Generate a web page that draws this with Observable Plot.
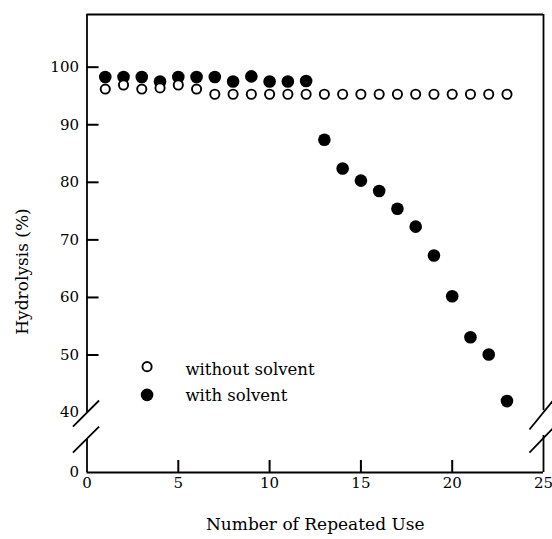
<!DOCTYPE html>
<html><head><meta charset="utf-8">
<script src="https://cdn.jsdelivr.net/npm/d3@7"></script>
<script src="https://cdn.jsdelivr.net/npm/@observablehq/plot@0.6"></script>
<style>body{margin:0;background:#fff}</style>
</head><body><div id="chart"></div>
<script>
// ---- data ----
const repeatedUse = [1,2,3,4,5,6,7,8,9,10,11,12,13,14,15,16,17,18,19,20,21,22,23];
const withoutSolvent = [96.2,96.9,96.2,96.4,96.9,96.2,95.3,95.3,95.3,95.3,95.3,95.3,95.3,95.3,95.3,95.3,95.3,95.3,95.3,95.3,95.3,95.3,95.3];
const withSolvent = [98.3,98.3,98.3,97.5,98.3,98.3,98.3,97.5,98.4,97.5,97.5,97.6,87.4,82.4,80.3,78.5,75.4,72.3,67.3,60.2,53.1,50.1,42.0];
const xTickLabels = [0,5,10,15,20,25];
const xTickMarks = [5,10,15,20];
const yTickLabels = [0,40,50,60,70,80,90,100];
const yTickMarks = [50,60,70,80,90,100];
const legendLabels = ["without solvent","with solvent"];
const xTitle = "Number of Repeated Use";
const yTitle = "Hydrolysis (%)";

const rows = repeatedUse.map((u,i)=>({use:u, without: withoutSolvent[i], with: withSolvent[i]}));
const Y_TOP = 109.15;
const BREAK_LOW = 40;
const SQUEEZE = 0.26015; // compression of the 0–40 segment (broken axis)
const breakY = v => v <= BREAK_LOW ? v * SQUEEZE : BREAK_LOW * SQUEEZE + (v - BREAK_LOW);
const unbreakY = t => t <= BREAK_LOW * SQUEEZE ? t / SQUEEZE : t - BREAK_LOW * SQUEEZE + BREAK_LOW;

// axis-break slashes (data units)
const breaks = [
  {x1:-0.77, y1:30.7, x2:0.66, y2:42.1},
  {x1:-0.77, y1:13.3, x2:0.66, y2:30.7},
  {x1:24.23, y1:28.7, x2:25.5, y2:42.0},
  {x1:24.23, y1:13.3, x2:25.5, y2:29.3}
];
const TICK_X = 0.66;  // inward tick length in x units (~12px)
const TICK_Y = 8;     // inward tick length in lower-segment y units (~12px)

const chart = Plot.plot({
  width: 552, height: 539,
  marginLeft: 86.5, marginRight: 9, marginTop: 14, marginBottom: 67,
  style: {fontFamily: "DejaVu Serif", background: "white", color: "black", overflow: "visible"},
  x: {domain: [0,25], label: null},
  y: {transform: breakY, domain: [0, breakY(Y_TOP)], label: null},
  marks: [
    // frame
    Plot.ruleY([Y_TOP], {strokeWidth: 1.8}),
    Plot.ruleY([0], {strokeWidth: 1.8}),
    Plot.ruleX([0], {y1: 40, y2: Y_TOP, strokeWidth: 1.8}),
    Plot.ruleX([0], {y1: 0, y2: 22, strokeWidth: 1.8}),
    Plot.ruleX([25], {y1: 40.3, y2: Y_TOP, strokeWidth: 1.8}),
    Plot.ruleX([25], {y1: 0, y2: 24.7, strokeWidth: 1.8}),
    Plot.link(breaks, {x1:"x1", y1:"y1", x2:"x2", y2:"y2", stroke:"black", strokeWidth: 1.8}),
    // inward tick marks
    Plot.ruleY(yTickMarks, {x1: 0, x2: TICK_X, stroke: "black", strokeWidth: 2}),
    Plot.ruleX(xTickMarks, {y1: 0, y2: TICK_Y, stroke: "black", strokeWidth: 2}),
    // tick labels (axis marks receive values already in the broken-axis space)
    Plot.axisX({ticks: xTickLabels, tickSize: 0, tickPadding: 5, fontSize: 15, label: null}),
    Plot.axisY({ticks: yTickLabels.map(breakY), tickFormat: t => String(Math.round(unbreakY(t))), tickSize: 0, tickPadding: 8, fontSize: 15, label: null}),
    // data
    Plot.dot(rows, {x: "use", y: "with", r: 6.3, fill: "black"}),
    Plot.dot(rows, {x: "use", y: "without", r: 4.6, stroke: "black", strokeWidth: 1.9, fill: "white"}),
    // legend
    Plot.dot([legendLabels[0]], {x: 3.29, y: 47.98, r: 4.6, stroke: "black", strokeWidth: 1.9, fill: "white"}),
    Plot.dot([legendLabels[1]], {x: 3.29, y: 43.07, r: 6.3, fill: "black"}),
    Plot.text(legendLabels, {x: 5.39, y: (d,i) => 47.45 - i*4.6, text: d => d, textAnchor: "start", fontSize: 16.5, fill: "black"}),
    // titles
    Plot.text([xTitle], {frameAnchor: "bottom", dy: 52, text: d => d, textAnchor: "middle", lineAnchor: "middle", fontSize: 17, fill: "black"}),
    Plot.text([yTitle], {frameAnchor: "left", dx: -64.5, dy: 28, rotate: -90, text: d => d, textAnchor: "middle", lineAnchor: "middle", fontSize: 17, fill: "black"})
  ]
});
document.getElementById("chart").appendChild(chart);
</script>
</body></html>
